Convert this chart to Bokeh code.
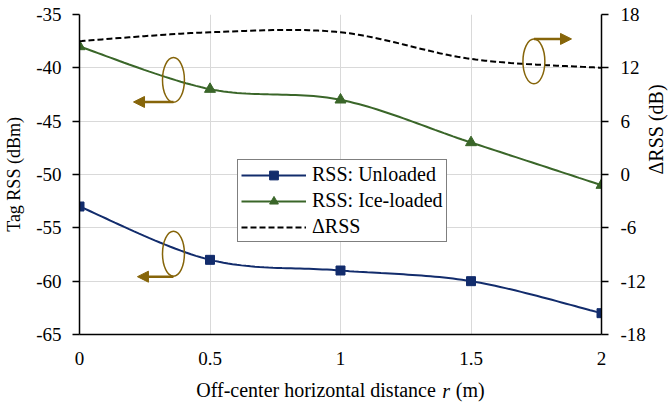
import math
import numpy as np
from bokeh.plotting import figure
from bokeh.models import (Range1d, LinearAxis, FixedTicker, Legend, LegendItem,
                          Arrow, NormalHead)
from bokeh.embed import file_html
from bokeh.resources import INLINE

# Measured data
distance_m = [0, 0.5, 1, 1.5, 2]
rss_unloaded = [-53, -58, -59, -60, -63]
rss_ice = [-38, -42, -43, -47, -51]
delta_rss = [15, 16, 16, 13, 12]

x_ticks = [0, 0.5, 1, 1.5, 2]
x_tick_labels = ["0", "0.5", "1", "1.5", "2"]
left_ticks = [-65, -60, -55, -50, -45, -40, -35]
left_tick_labels = ["-65", "-60", "-55", "-50", "-45", "-40", "-35"]
right_ticks = [-18, -12, -6, 0, 6, 12, 18]
right_tick_labels = ["-18", "-12", "-6", "0", "6", "12", "18"]

NAVY = "#122C6C"
GREEN = "#3A6629"
GOLD = "#86650A"
FONT = "Liberation Serif"
TICK_FS = "19px"
TITLE_FS = "20px"


def smooth(xs, ys, n=30):
    """Bezier smoothing through the points (Catmull-Rom style control points)."""
    pts = np.column_stack([xs, ys]).astype(float)
    m = len(pts)
    ox, oy = [], []
    t = np.linspace(0, 1, n)[:, None]
    for i in range(m - 1):
        p0 = pts[max(i - 1, 0)]
        p1 = pts[i]
        p2 = pts[i + 1]
        p3 = pts[min(i + 2, m - 1)]
        c1 = p1 + (p2 - p0) / 6.0
        c2 = p2 - (p3 - p1) / 6.0
        seg = ((1 - t) ** 3) * p1 + 3 * ((1 - t) ** 2) * t * c1 + 3 * (1 - t) * t ** 2 * c2 + t ** 3 * p2
        if i > 0:
            seg = seg[1:]
        ox.extend(seg[:, 0])
        oy.extend(seg[:, 1])
    return ox, oy


p = figure(frame_width=522, frame_height=320, x_range=Range1d(0, 2), y_range=Range1d(-65, -35),
           output_backend="svg", toolbar_location=None,
           min_border_left=79, min_border_right=0, min_border_top=14, min_border_bottom=0)
p.outline_line_color = None
p.background_fill_color = "white"
p.border_fill_color = "white"
p.extra_y_ranges = {"delta": Range1d(-18, 18)}

# grid
p.xgrid.ticker = FixedTicker(ticks=x_ticks)
p.ygrid.ticker = FixedTicker(ticks=left_ticks)
for g in (p.xgrid, p.ygrid):
    g.grid_line_color = "#D9D9D9"
    g.grid_line_width = 1

# bottom axis
xa = p.xaxis[0]
xa.ticker = FixedTicker(ticks=x_ticks)
xa.major_label_overrides = dict(zip(x_ticks, x_tick_labels))
xa.axis_label = "Off-center horizontal distance\u2002\u2002(m)"

# left axis
ya = p.yaxis[0]
ya.ticker = FixedTicker(ticks=left_ticks)
ya.major_label_overrides = dict(zip(left_ticks, left_tick_labels))
ya.axis_label = "Tag RSS (dBm)"

# right axis
ra = LinearAxis(y_range_name="delta", ticker=FixedTicker(ticks=right_ticks),
                major_label_overrides=dict(zip(right_ticks, right_tick_labels)))
p.add_layout(ra, "right")

for ax in (xa, ya, ra):
    ax.axis_line_color = "black"
    ax.axis_line_width = 1.5
    ax.major_tick_line_color = "black"
    ax.major_tick_line_width = 1.5
    ax.major_tick_in = 0
    ax.major_tick_out = 7
    ax.minor_tick_line_color = None
    ax.major_label_text_font = FONT
    ax.major_label_text_font_size = TICK_FS
    ax.major_label_text_color = "black"
    ax.axis_label_text_font = FONT
    ax.axis_label_text_font_size = TITLE_FS
    ax.axis_label_text_font_style = "normal"
    ax.axis_label_text_color = "black"
xa.major_tick_out = 0
xa.major_label_standoff = 17
xa.axis_label_standoff = 11
ya.major_label_standoff = 11
ya.axis_label_standoff = 9
ya.axis_label_text_font_size = "18px"
ra.major_label_standoff = 12


def title_axis(side, ticks, labels, **kw):
    """Axis carrying only a text piece of a title as its tick label."""
    ax = LinearAxis(ticker=FixedTicker(ticks=ticks),
                    major_label_overrides=dict(zip(ticks, labels)), **kw)
    ax.axis_line_color = None
    ax.major_tick_line_color = None
    ax.minor_tick_line_color = None
    ax.major_tick_out = 0
    ax.major_tick_in = 0
    ax.major_label_text_font = FONT
    ax.major_label_text_font_size = TITLE_FS
    ax.major_label_text_color = "black"
    p.add_layout(ax, side)
    return ax


# right-hand title, reading bottom to top
rt = title_axis("right", [0], ["\u0394RSS (dB)"], y_range_name="delta")
rt.major_label_orientation = math.pi / 2
rt.major_label_standoff = 7

# italic symbol inside the bottom title
it = title_axis("below", [1.4046], ["r"])
it.major_label_text_font_style = "italic"
it.major_label_standoff = -24

# series
ux, uy = smooth(distance_m, rss_unloaded)
ix, iy = smooth(distance_m, rss_ice)
dx, dy = smooth(distance_m, delta_rss)

l_un = p.line(ux, uy, line_color=NAVY, line_width=2)
m_un = p.scatter(distance_m, rss_unloaded, marker="square", size=9,
                 fill_color=NAVY, line_color=NAVY)
l_ice = p.line(ix, iy, line_color=GREEN, line_width=2)
m_ice = p.scatter(distance_m, rss_ice, marker="triangle", size=11,
                  fill_color=GREEN, line_color=GREEN)
l_d = p.line(dx, dy, line_color="black", line_width=2, line_dash="6 3",
             y_range_name="delta")

# axis-indicator ellipses with arrows
ell_x = [0.36, 0.36, 1.741]
ell_y = [-41.13, -57.43, -39.40]
p.ellipse(x=ell_x, y=ell_y, width=0.084, height=4.2, fill_color=None,
          line_color=GOLD, line_width=1.5)
arrows = [((0.36, -43.2), (0.207, -43.2)),
          ((0.36, -59.58), (0.222, -59.58)),
          ((1.741, -37.29), (1.885, -37.29))]
for (xs, ys), (xe, ye) in arrows:
    p.add_layout(Arrow(x_start=xs, y_start=ys, x_end=xe, y_end=ye,
                       line_color=GOLD, line_width=2.5,
                       end=NormalHead(size=11, fill_color=GOLD, line_color=GOLD)))

legend = Legend(items=[
    LegendItem(label="RSS: Unloaded", renderers=[l_un, m_un]),
    LegendItem(label="RSS: Ice-loaded", renderers=[l_ice, m_ice]),
    LegendItem(label="\u0394RSS", renderers=[l_d]),
], location=(158, 92))
legend.label_text_font = FONT
legend.label_text_font_size = TITLE_FS
legend.label_text_color = "black"
legend.border_line_color = "black"
legend.border_line_width = 1.2
legend.background_fill_alpha = 1
legend.padding = 3
legend.spacing = 3
legend.label_height = 22
legend.glyph_height = 22
legend.glyph_width = 65
legend.label_standoff = 6
legend.margin = 0
p.add_layout(legend, "center")

open("out.html", "w").write(file_html(p, INLINE))
